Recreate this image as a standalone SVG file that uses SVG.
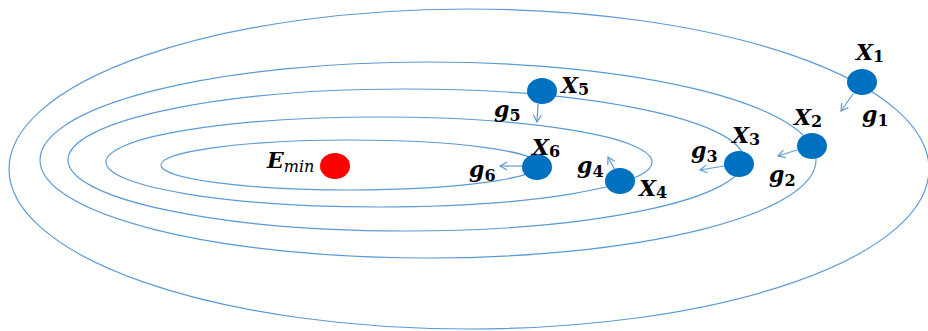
<svg xmlns="http://www.w3.org/2000/svg" width="928" height="331" viewBox="0 0 928 331">
<defs>
<marker id="ah" markerWidth="10" markerHeight="10" refX="8" refY="5" orient="auto" markerUnits="userSpaceOnUse">
<path d="M1,1 L8,5 L1,9" fill="none" stroke="#5B9BD5" stroke-width="1.2"/>
</marker>
<style>
.c{fill:none;stroke:#5B9BD5;stroke-width:1.2}
.n{fill:#0070C0}
.t{font-family:"DejaVu Serif","Liberation Serif",serif;font-style:italic;font-weight:bold;font-size:22px;fill:#000}
.s{font-size:16px;font-style:normal}
.a{fill:none;stroke:#5B9BD5;stroke-width:1.2;marker-end:url(#ah)}
</style>
</defs>
<rect width="928" height="331" fill="#fff"/>
<g id="contours">
<ellipse class="c" cx="469" cy="169" rx="460" ry="160"/>
<ellipse class="c" cx="428" cy="160" rx="388" ry="98"/>
<ellipse class="c" cx="406" cy="160" rx="338" ry="71"/>
<ellipse class="c" cx="379" cy="162" rx="273" ry="45"/>
<ellipse class="c" cx="350" cy="165" rx="189" ry="25"/>
</g>
<g id="connectors">
<line class="a" x1="853" y1="94" x2="841" y2="111"/>
<line class="a" x1="797" y1="150" x2="778" y2="156"/>
<line class="a" x1="724" y1="166" x2="700" y2="170"/>
<line class="a" x1="538" y1="104" x2="537" y2="122"/>
<line class="a" x1="615" y1="170" x2="608" y2="157"/>
<line class="a" x1="522" y1="166" x2="500" y2="166"/>
<text class="t" x="862" y="122">g<tspan class="s" dy="4">1</tspan></text>
<text class="t" x="769" y="182">g<tspan class="s" dy="4">2</tspan></text>
<text class="t" x="691" y="158">g<tspan class="s" dy="4">3</tspan></text>
<text class="t" x="577" y="173">g<tspan class="s" dy="4">4</tspan></text>
<text class="t" x="494" y="117">g<tspan class="s" dy="4">5</tspan></text>
<text class="t" x="469" y="177">g<tspan class="s" dy="4">6</tspan></text>
</g>
<g id="x1"><ellipse class="n" cx="862" cy="82" rx="15" ry="13"/><text class="t" x="856" y="60">X<tspan class="s" dy="2">1</tspan></text></g>
<g id="x2"><ellipse class="n" cx="812" cy="146" rx="15" ry="13"/><text class="t" x="794" y="125">X<tspan class="s" dy="2">2</tspan></text></g>
<g id="x3"><ellipse class="n" cx="739" cy="164" rx="15" ry="13"/><text class="t" x="732" y="143">X<tspan class="s" dy="2">3</tspan></text></g>
<g id="x4"><ellipse class="n" cx="620" cy="181" rx="15" ry="13"/><text class="t" x="639" y="196">X<tspan class="s" dy="2">4</tspan></text></g>
<g id="x5"><ellipse class="n" cx="542" cy="91" rx="15" ry="13"/><text class="t" x="561" y="93">X<tspan class="s" dy="2">5</tspan></text></g>
<g id="x6"><ellipse class="n" cx="537" cy="167" rx="15" ry="13"/><text class="t" x="532" y="155">X<tspan class="s" dy="2">6</tspan></text></g>
<g id="emin"><ellipse cx="335" cy="166" rx="15" ry="13" fill="#FF0000"/><text class="t" x="267" y="168">E<tspan dy="4" font-size="16" font-weight="normal">min</tspan></text></g>
</svg>
